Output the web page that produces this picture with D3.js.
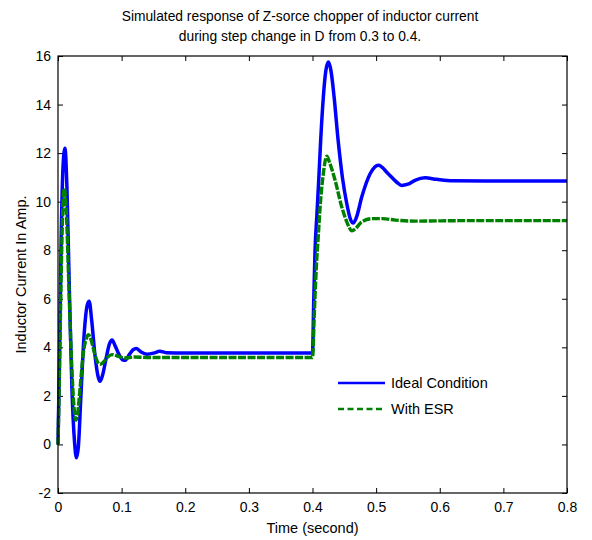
<!DOCTYPE html>
<html>
<head>
<meta charset="utf-8">
<script src="https://cdn.jsdelivr.net/npm/d3@7/dist/d3.min.js"></script>
<style>
  html, body { margin: 0; padding: 0; background: #fff; }
  svg { display: block; }
  text { font-family: "Liberation Sans", Arial, Helvetica, sans-serif; fill: #000; }
</style>
</head>
<body>
<svg id="chart" width="592" height="540"></svg>
<script>
// Inductor current of the Z-source chopper, duty step 0.3 -> 0.4 at t = 0.4 s
const titleLines = [
  "Simulated response of Z-sorce chopper of inductor current",
  "during step change in D from 0.3 to 0.4."
];
const xLabel = "Time (second)";
const yLabel = "Inductor Current In Amp.";
const seriesNames = ["Ideal Condition", "With ESR"];

const xTicks = [0, 0.1, 0.2, 0.3, 0.4, 0.5, 0.6, 0.7, 0.8];
const yTicks = [-2, 0, 2, 4, 6, 8, 10, 12, 14, 16];

// Ideal condition: [time (s), current (A)]
const idealCurrent = [
  [0, 0], [0.002, 3], [0.005, 8.5], [0.008, 11.5], [0.011, 12.2], [0.014, 10.6],
  [0.018, 6.2], [0.022, 2.2], [0.026, 0.1], [0.029, -0.55], [0.032, -0.1],
  [0.036, 2.0], [0.041, 4.5], [0.046, 5.75], [0.049, 5.9], [0.053, 5.1],
  [0.058, 3.7], [0.063, 2.8], [0.066, 2.6], [0.070, 2.85], [0.076, 3.6],
  [0.081, 4.15], [0.085, 4.3], [0.090, 4.05], [0.096, 3.7], [0.102, 3.48],
  [0.106, 3.47], [0.112, 3.7], [0.118, 3.9], [0.123, 3.95], [0.130, 3.82],
  [0.140, 3.72], [0.150, 3.76], [0.160, 3.84], [0.170, 3.78], [0.200, 3.77],
  [0.300, 3.77], [0.400, 3.77],
  [0.402, 6.0], [0.404, 8.0], [0.407, 9.5], [0.410, 11.0], [0.413, 12.6],
  [0.417, 14.3], [0.421, 15.4], [0.425, 15.75], [0.429, 15.4], [0.434, 14.3],
  [0.440, 12.6], [0.447, 11.0], [0.454, 9.9], [0.460, 9.25], [0.464, 9.12],
  [0.469, 9.35], [0.4775, 10.2], [0.4906, 11.15], [0.5036, 11.5], [0.519, 11.15],
  [0.5325, 10.8], [0.540, 10.67], [0.550, 10.72], [0.561, 10.88], [0.577, 10.98],
  [0.595, 10.92], [0.620, 10.86], [0.700, 10.85], [0.800, 10.85]
];

// With ESR: [time (s), current (A)]
const esrCurrent = [
  [0, 0], [0.002, 2.5], [0.005, 7.0], [0.008, 10.0], [0.010, 10.55], [0.013, 9.6],
  [0.017, 6.6], [0.021, 3.6], [0.025, 1.6], [0.028, 1.0], [0.031, 1.3],
  [0.035, 2.4], [0.040, 3.8], [0.045, 4.4], [0.048, 4.52], [0.052, 4.3],
  [0.057, 3.8], [0.062, 3.4], [0.066, 3.3], [0.071, 3.38], [0.078, 3.6],
  [0.085, 3.7], [0.095, 3.63], [0.105, 3.56], [0.120, 3.6], [0.140, 3.58],
  [0.200, 3.58], [0.300, 3.58], [0.400, 3.58],
  [0.403, 5.5], [0.406, 7.3], [0.409, 8.55], [0.412, 9.8], [0.417, 11.15],
  [0.4224, 11.87], [0.427, 11.6], [0.4355, 10.88], [0.446, 9.78], [0.454, 9.16],
  [0.462, 8.8], [0.468, 8.9], [0.477, 9.16], [0.493, 9.3], [0.510, 9.3],
  [0.530, 9.24], [0.560, 9.2], [0.650, 9.22], [0.800, 9.22]
];

const svg = d3.select("#chart");
const margin = { left: 58, right: 25, top: 56, bottom: 47 };
const W = 592, H = 540;
const plotW = W - margin.left - margin.right;
const plotH = H - margin.top - margin.bottom;

const x = d3.scaleLinear().domain([0, 0.8]).range([margin.left, margin.left + plotW]);
const y = d3.scaleLinear().domain([-2, 16]).range([margin.top + plotH, margin.top]);

const fmt = d => String(d);
const tickLen = 5;

// Axes: ticks point inward on all four sides of the box
const gBottom = svg.append("g").attr("transform", `translate(0,${margin.top + plotH})`)
  .call(d3.axisBottom(x).tickValues(xTicks).tickFormat(fmt).tickSizeInner(-tickLen).tickSizeOuter(0).tickPadding(9));
const gTop = svg.append("g").attr("transform", `translate(0,${margin.top})`)
  .call(d3.axisTop(x).tickValues(xTicks).tickFormat("").tickSizeInner(-tickLen).tickSizeOuter(0));
const gLeft = svg.append("g").attr("transform", `translate(${margin.left},0)`)
  .call(d3.axisLeft(y).tickValues(yTicks).tickFormat(fmt).tickSizeInner(-tickLen).tickSizeOuter(0).tickPadding(7));
const gRight = svg.append("g").attr("transform", `translate(${margin.left + plotW},0)`)
  .call(d3.axisRight(y).tickValues(yTicks).tickFormat("").tickSizeInner(-tickLen).tickSizeOuter(0));

[gBottom, gTop, gLeft, gRight].forEach(g => {
  g.select(".domain").remove();
  g.selectAll(".tick line").attr("stroke", "#000").attr("stroke-width", 1);
  g.selectAll(".tick text").style("font-size", "14px").attr("fill", "#000")
    .style("font-family", "'Liberation Sans', Arial, sans-serif");
});

// Traces
const line = d3.line().x(d => x(d[0])).y(d => y(d[1])).curve(d3.curveMonotoneX);

svg.append("path").datum(idealCurrent)
  .attr("d", line).attr("fill", "none")
  .attr("stroke", "#0000ff").attr("stroke-width", 3.5).attr("stroke-linejoin", "round");

svg.append("path").datum(esrCurrent)
  .attr("d", line).attr("fill", "none")
  .attr("stroke", "#008000").attr("stroke-width", 3.4).attr("stroke-dasharray", "8,1.5");

// Plot box
svg.append("rect")
  .attr("x", margin.left).attr("y", margin.top)
  .attr("width", plotW).attr("height", plotH)
  .attr("fill", "none").attr("stroke", "#000").attr("stroke-width", 1.2);

// Title
svg.append("g").selectAll("text").data(titleLines).join("text")
  .attr("x", 300).attr("y", (d, i) => 21 + i * 20)
  .attr("text-anchor", "middle").style("font-size", "13.8px").text(d => d);

// Axis labels
svg.append("text")
  .attr("x", margin.left + plotW / 2).attr("y", 533)
  .attr("text-anchor", "middle").style("font-size", "14.5px").text(xLabel);

svg.append("text")
  .attr("transform", `translate(26,${margin.top + plotH / 2}) rotate(-90)`)
  .attr("text-anchor", "middle").style("font-size", "14.5px").text(yLabel);

// Legend
const legend = svg.append("g").attr("transform", "translate(338,383)");
const legendStyles = [
  { color: "#0000ff", dash: null },
  { color: "#008000", dash: "6,3.5" }
];
seriesNames.forEach((name, i) => {
  const row = legend.append("g").attr("transform", `translate(0,${i * 26})`);
  row.append("line").attr("x1", 0).attr("x2", 47).attr("y1", 0).attr("y2", 0)
    .attr("stroke", legendStyles[i].color).attr("stroke-width", 2.5)
    .attr("stroke-dasharray", legendStyles[i].dash);
  row.append("text").attr("x", 53).attr("y", 0).attr("dy", "0.35em")
    .style("font-size", "14.5px").text(name);
});
</script>
</body>
</html>
